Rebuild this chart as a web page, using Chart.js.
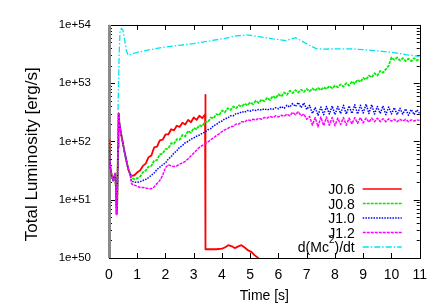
<!DOCTYPE html>
<html><head><meta charset="utf-8">
<script src="https://cdn.jsdelivr.net/npm/chart.js@4.4.0/dist/chart.umd.min.js"></script>
<style>html,body{margin:0;padding:0;background:#fff;}#wrap{width:436px;height:305px;}</style>
</head><body><div id="wrap"><canvas id="c" width="436" height="305"></canvas></div>
<script>
// ---- data (y values stored as log10 of luminosity in erg/s) ----
const seriesLabels = ['J0.6', 'J0.8', 'J1.0', 'J1.2', 'd(Mc²)/dt'];
const xTickValues = [0, 1, 2, 3, 4, 5, 6, 7, 8, 9, 10, 11];
const yTickExponents = [50, 51, 52, 53, 54];
const xTitle = 'Time [s]';
const yTitle = 'Total Luminosity [erg/s]';

const earlyTime = [0.0, 0.02, 0.05, 0.10, 0.15, 0.19, 0.22, 0.25, 0.27, 0.29, 0.32, 0.34, 0.37, 0.42, 0.48, 0.55, 0.62, 0.68, 0.74];
const earlyLog  = [52.02, 51.75, 51.55, 51.40, 51.33, 51.40, 51.45, 51.15, 50.75, 50.95, 51.90, 52.48, 52.30, 52.15, 52.00, 51.82, 51.66, 51.53, 51.45];

const redTime = [0.8, 0.9, 1.0, 1.1, 1.2, 1.3, 1.4, 1.5, 1.6, 1.7, 1.8, 1.9, 2.0, 2.1, 2.2, 2.3, 2.4, 2.5, 2.6, 2.7, 2.8, 2.9, 3.0, 3.1, 3.2, 3.3, 3.4,
  3.41, 3.42, 3.6, 3.8, 4.0, 4.1, 4.22, 4.35, 4.45, 4.58, 4.69, 4.8, 4.93, 5.05, 5.15, 5.28, 5.35];
const redLog = [51.41, 51.42, 51.47, 51.50, 51.58, 51.62, 51.73, 51.76, 51.90, 51.91, 52.02, 52.03, 52.12, 52.12, 52.21, 52.19, 52.27, 52.25, 52.32, 52.29, 52.37, 52.33, 52.41, 52.37, 52.44, 52.40, 52.46,
  52.80, 50.15, 50.15, 50.15, 50.16, 50.18, 50.22, 50.20, 50.17, 50.20, 50.22, 50.18, 50.13, 50.10, 50.05, 50.00, 49.95];

const mainTime = [
  0.8, 0.9, 1.0, 1.1, 1.2, 1.3, 1.4, 1.5, 1.6, 1.7,
  1.8, 1.9, 2.0, 2.1, 2.2, 2.3, 2.4, 2.5, 2.6, 2.7,
  2.8, 2.9, 3.0, 3.1, 3.2, 3.3, 3.4, 3.5, 3.6, 3.7,
  3.8, 3.9, 4.0, 4.1, 4.2, 4.3, 4.4, 4.5, 4.6, 4.7,
  4.8, 4.9, 5.0, 5.1, 5.2, 5.3, 5.4, 5.5, 5.6, 5.7,
  5.8, 5.9, 6.0, 6.1, 6.2, 6.3, 6.4, 6.5, 6.6, 6.7,
  6.8, 6.9, 7.0, 7.1, 7.2, 7.3, 7.4, 7.5, 7.6, 7.7,
  7.8, 7.9, 8.0, 8.1, 8.2, 8.3, 8.4, 8.5, 8.6, 8.7,
  8.8, 8.9, 9.0, 9.1, 9.2, 9.3, 9.4, 9.5, 9.6, 9.7,
  9.8, 9.9, 10.0, 10.1, 10.2, 10.3, 10.4, 10.5, 10.6, 10.7,
  10.8, 10.9, 11.0];

const greenLog = [
  51.38, 51.35, 51.37, 51.40, 51.47, 51.50, 51.57, 51.58, 51.67, 51.68,
  51.78, 51.79, 51.87, 51.88, 51.97, 51.96, 52.04, 52.03, 52.11, 52.09,
  52.18, 52.15, 52.23, 52.21, 52.28, 52.26, 52.34, 52.33, 52.41, 52.40,
  52.47, 52.45, 52.53, 52.50, 52.57, 52.54, 52.60, 52.57, 52.62, 52.60,
  52.65, 52.62, 52.67, 52.64, 52.70, 52.66, 52.72, 52.69, 52.75, 52.71,
  52.78, 52.74, 52.81, 52.77, 52.84, 52.80, 52.87, 52.83, 52.88, 52.84,
  52.89, 52.85, 52.90, 52.86, 52.91, 52.87, 52.92, 52.88, 52.93, 52.90,
  52.95, 52.91, 52.96, 52.93, 52.98, 52.94, 53.00, 52.96, 53.03, 52.99,
  53.06, 53.02, 53.09, 53.06, 53.13, 53.10, 53.17, 53.13, 53.21, 53.18,
  53.24, 53.30, 53.44, 53.40, 53.44, 53.39, 53.43, 53.38, 53.42, 53.38,
  53.43, 53.39, 53.42];

const blueLog = [
  51.32, 51.30, 51.30, 51.31, 51.33, 51.35, 51.38, 51.42, 51.46, 51.52,
  51.56, 51.60, 51.63, 51.70, 51.74, 51.80, 51.84, 51.90, 51.93, 51.98,
  52.00, 52.04, 52.06, 52.09, 52.11, 52.14, 52.16, 52.20, 52.22, 52.27,
  52.29, 52.33, 52.35, 52.39, 52.40, 52.44, 52.44, 52.48, 52.48, 52.51,
  52.50, 52.53, 52.52, 52.54, 52.53, 52.55, 52.54, 52.56, 52.54, 52.56,
  52.55, 52.58, 52.56, 52.60, 52.57, 52.62, 52.59, 52.65, 52.60, 52.67,
  52.58, 52.66, 52.55, 52.62, 52.48, 52.58, 52.45, 52.59, 52.46, 52.60,
  52.47, 52.61, 52.46, 52.60, 52.48, 52.62, 52.47, 52.61, 52.48, 52.63,
  52.47, 52.62, 52.49, 52.64, 52.48, 52.63, 52.47, 52.60, 52.48, 52.61,
  52.46, 52.59, 52.47, 52.58, 52.46, 52.57, 52.47, 52.56, 52.45, 52.55,
  52.46, 52.54, 52.48];

const magentaLog = [
  51.27, 51.25, 51.23, 51.21, 51.21, 51.20, 51.19, 51.19, 51.22, 51.28,
  51.33, 51.42, 51.55, 51.60, 51.58, 51.57, 51.58, 51.61, 51.63, 51.66,
  51.70, 51.75, 51.80, 51.85, 51.90, 51.93, 51.96, 51.99, 52.03, 52.06,
  52.10, 52.13, 52.17, 52.20, 52.22, 52.25, 52.26, 52.30, 52.30, 52.34,
  52.33, 52.37, 52.36, 52.38, 52.37, 52.40, 52.38, 52.41, 52.40, 52.43,
  52.41, 52.44, 52.42, 52.45, 52.43, 52.47, 52.44, 52.50, 52.46, 52.51,
  52.44, 52.47, 52.38, 52.43, 52.28, 52.41, 52.25, 52.42, 52.27, 52.42,
  52.28, 52.41, 52.27, 52.40, 52.29, 52.41, 52.28, 52.40, 52.30, 52.41,
  52.31, 52.41, 52.32, 52.40, 52.33, 52.40, 52.34, 52.40, 52.34, 52.39,
  52.34, 52.39, 52.35, 52.38, 52.34, 52.38, 52.35, 52.38, 52.34, 52.37,
  52.35, 52.37, 52.36];

const cyanTime = [0.32, 0.36, 0.39, 0.44, 0.50, 0.55, 0.62, 0.68, 1.0, 1.5, 2.0, 2.5, 3.0, 3.5, 4.0, 4.5, 4.9, 5.3, 5.8, 6.25, 6.45, 6.62, 6.8, 7.1, 7.35, 7.6, 8.5, 9.0, 9.5, 10.0, 10.5, 10.8, 11.0];
const cyanLog  = [52.54, 53.50, 53.90, 53.94, 53.90, 53.75, 53.55, 53.48, 53.53, 53.58, 53.62, 53.65, 53.68, 53.72, 53.76, 53.81, 53.83, 53.80, 53.76, 53.73, 53.76, 53.78, 53.73, 53.65, 53.59, 53.585, 53.59, 53.575, 53.555, 53.53, 53.49, 53.47, 53.46];

// ---- build points ----
function pts(ts, ls) { return ts.map((t, i) => ({ x: t, y: Math.pow(10, ls[i]) })); }
const early = pts(earlyTime, earlyLog);

const FONT = "'Liberation Sans', Arial, Helvetica, sans-serif";
Chart.defaults.font.family = FONT;
Chart.defaults.color = '#000';

const common = { pointRadius: 0, tension: 0, fill: false, borderJoinStyle: 'round' };
const datasets = [
  Object.assign({ label: seriesLabels[0], data: early.concat(pts(redTime, redLog)), borderColor: '#ff0000', borderWidth: 1.8, borderDash: [], order: 5 }, common),
  Object.assign({ label: seriesLabels[1], data: early.concat(pts(mainTime, greenLog)), borderColor: '#00ee00', borderWidth: 1.8, borderDash: [3, 1], order: 4 }, common),
  Object.assign({ label: seriesLabels[2], data: early.concat(pts(mainTime, blueLog)), borderColor: '#0000ff', borderWidth: 1.5, borderDash: [1.5, 1.2], order: 3 }, common),
  Object.assign({ label: seriesLabels[3], data: early.concat(pts(mainTime, magentaLog)), borderColor: '#ff00ff', borderWidth: 1.5, borderDash: [3, 1], order: 2 }, common),
  Object.assign({ label: seriesLabels[4], data: pts(cyanTime, cyanLog), borderColor: '#00e5ee', borderWidth: 1.3, borderDash: [6, 2, 1.5, 2], order: 1 }, common)
];

const framePlugin = {
  id: 'frame',
  beforeDatasetsDraw(chart) {
    const { ctx, chartArea: a, scales: { x, y } } = chart;
    ctx.save();
    ctx.strokeStyle = '#000';
    ctx.lineWidth = 1;
    ctx.beginPath();
    xTickValues.forEach(v => {
      const px = Math.round(x.getPixelForValue(v)) + 0.5;
      ctx.moveTo(px, a.bottom); ctx.lineTo(px, a.bottom - 5);
      ctx.moveTo(px, a.top); ctx.lineTo(px, a.top + 5);
    });
    for (let k = 0; k < yTickExponents.length; k++) {
      const e = yTickExponents[k];
      for (let m = 1; m <= 9; m++) {
        if (m > 1 && k === yTickExponents.length - 1) break;
        const py = Math.round(y.getPixelForValue(m * Math.pow(10, e))) + 0.5;
        const len = m === 1 ? 6 : 3;
        ctx.moveTo(a.left, py); ctx.lineTo(a.left + len, py);
        ctx.moveTo(a.right, py); ctx.lineTo(a.right - len, py);
      }
    }
    ctx.stroke();
    ctx.strokeRect(Math.round(a.left) + 0.5, Math.round(a.top) + 0.5, Math.round(a.right - a.left), Math.round(a.bottom - a.top));
    ctx.fillStyle = '#8a8a8a';
    ctx.fillRect(Math.round(a.left) - 1, a.top, 3, a.bottom - a.top);
    // y axis title (rotated), sized to span ~178px as in the reference
    ctx.font = '17px ' + FONT;
    const w17 = ctx.measureText(yTitle).width;
    const fs = Math.min(17, 17 * 178 / w17);
    ctx.translate(32, a.top + (a.bottom - a.top) * 0.555);
    ctx.rotate(-Math.PI / 2);
    ctx.fillStyle = '#000';
    ctx.font = fs.toFixed(2) + 'px ' + FONT;
    ctx.textAlign = 'center';
    ctx.textBaseline = 'middle';
    ctx.fillText(yTitle, 0, 0);
    ctx.restore();
  },
  afterDatasetsDraw(chart) {
    const { ctx, chartArea: a } = chart;
    const rowH = 14.5;
    const n = chart.data.datasets.length;
    const textRight = a.right - 65;
    ctx.save();
    chart.data.datasets.forEach((ds, i) => {
      const yc = a.bottom - 11 - rowH * (n - 1 - i);
      ctx.beginPath();
      ctx.strokeStyle = ds.borderColor;
      ctx.lineWidth = 1.3;
      ctx.setLineDash(ds.borderDash || []);
      ctx.moveTo(a.right - 57, yc); ctx.lineTo(a.right - 18, yc);
      ctx.stroke();
      ctx.setLineDash([]);
      ctx.fillStyle = '#000';
      ctx.textBaseline = 'alphabetic';
      ctx.textAlign = 'right';
      const base = yc + 5;
      const lbl = ds.label;
      const sup = lbl.indexOf('²');
      if (sup >= 0) {
        const pre = lbl.slice(0, sup), post = lbl.slice(sup + 1);
        ctx.font = '14px ' + FONT;
        const wPost = ctx.measureText(post).width;
        ctx.fillText(post, textRight, base);
        ctx.font = '10px ' + FONT;
        const wSup = ctx.measureText('2').width;
        ctx.fillText('2', textRight - wPost, base - 9);
        ctx.font = '14px ' + FONT;
        ctx.fillText(pre, textRight - wPost - wSup, base);
      } else {
        ctx.font = '14px ' + FONT;
        ctx.fillText(lbl, textRight, base);
      }
    });
    ctx.restore();
  }
};

new Chart(document.getElementById('c'), {
  type: 'line',
  data: { datasets },
  plugins: [framePlugin],
  options: {
    responsive: false,
    animation: false,
    devicePixelRatio: 1,
    layout: { padding: { left: 0, right: 16, top: 17, bottom: 0 } },
    plugins: { legend: { display: false }, tooltip: { enabled: false } },
    scales: {
      x: {
        type: 'linear', min: 0, max: 11,
        grid: { display: false, drawTicks: false },
        border: { display: false },
        ticks: { stepSize: 1, autoSkip: false, maxRotation: 0, padding: 9, font: { size: 14 }, color: '#000' },
        afterBuildTicks(scale) { scale.ticks = xTickValues.map(v => ({ value: v })); },
        title: { display: true, text: xTitle, font: { size: 14 }, color: '#000', padding: { top: 1.5, bottom: 0 } },
        afterFit(scale) { scale.height = 47; }
      },
      y: {
        type: 'logarithmic', min: Math.pow(10, yTickExponents[0]), max: Math.pow(10, yTickExponents[yTickExponents.length - 1]),
        grid: { display: false, drawTicks: false },
        border: { display: false },
        ticks: { autoSkip: false, padding: 18, font: { size: 11.5 }, color: '#000',
          callback: v => '1e+' + Math.round(Math.log10(v)) },
        afterBuildTicks(scale) { scale.ticks = yTickExponents.map(e => ({ value: Math.pow(10, e) })); },
        title: { display: false },
        afterFit(scale) { scale.width = 109; }
      }
    }
  }
});
</script>
</body></html>
